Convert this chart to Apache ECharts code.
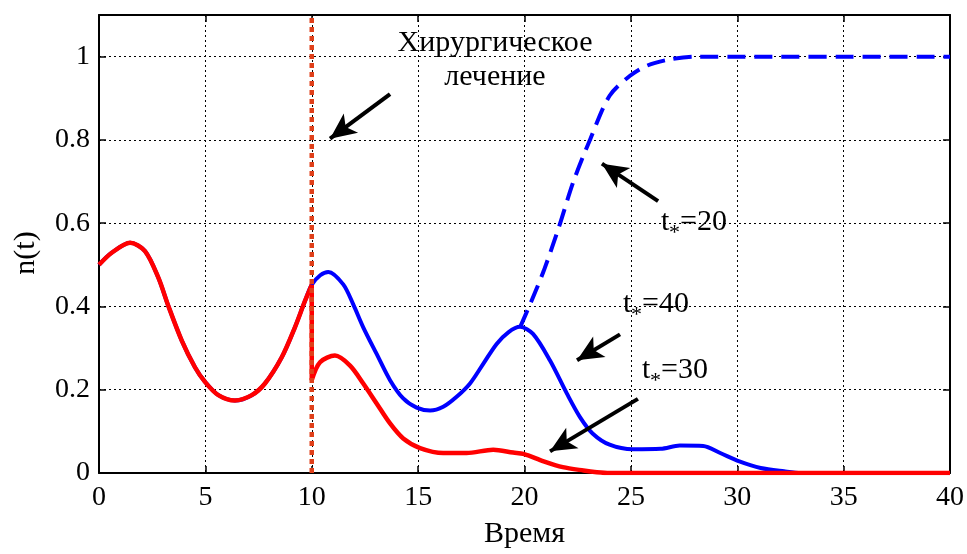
<!DOCTYPE html>
<html lang="ru">
<head>
    <meta charset="UTF-8">
    <title>n(t)</title>
    <script src="https://cdn.jsdelivr.net/npm/echarts@6/dist/echarts.min.js"></script>
    <style>
        html, body { margin: 0; padding: 0; background: #fff; }
        #main { width: 967px; height: 554px; }
    </style>
</head>
<body>
<div id="main"></div>
<script>
    // общий участок (до операции), t от 0 до 10
    var baseT = [0, 0.6, 1.46, 2.16, 2.79, 3.26, 3.89, 4.51, 4.98, 5.61, 6.39, 7.18, 7.8, 8.59, 9.21, 9.68, 10];
    var baseN = [0.5, 0.529, 0.553, 0.533, 0.469, 0.401, 0.318, 0.254, 0.219, 0.187, 0.174, 0.187, 0.215, 0.278, 0.35, 0.413, 0.452];

    // без операции (синяя сплошная), t* = 40
    var blueT = [10.4, 10.78, 11.48, 11.95, 12.42, 13.05, 13.68, 14.3, 14.93, 15.56, 16.18, 16.81, 17.44, 18.06, 18.69, 19.24, 19.79,
        20.4, 21.2, 22.0, 22.6, 23.2, 24.0, 25.1, 26.4, 27.3, 28.4, 29.2, 30.1, 31.1, 32.2, 33, 40];
    var blueN = [0.475, 0.483, 0.453, 0.405, 0.35, 0.286, 0.223, 0.179, 0.157, 0.15, 0.159, 0.183, 0.215, 0.262, 0.31, 0.338, 0.351,
        0.334, 0.27, 0.19, 0.135, 0.095, 0.068, 0.057, 0.058, 0.066, 0.065, 0.048, 0.028, 0.012, 0.004, 0, 0];

    // t* = 20 (синяя пунктирная)
    var dashT = [19.8, 20.26, 20.9, 21.6, 22.3, 23.1, 24.0, 24.96, 25.74, 26.8, 28, 40];
    var dashN = [0.351, 0.405, 0.485, 0.588, 0.70, 0.803, 0.906, 0.954, 0.978, 0.993, 1, 1];

    // после операции (красная), t* = 30
    var redT = [10, 10.39, 11.09, 11.8, 12.42, 13.05, 13.68, 14.3, 15.09, 16.18, 17.28, 18.53, 19.47, 19.95, 20.9, 21.8, 22.77, 23.4, 24, 40];
    var redN = [0.223, 0.266, 0.282, 0.258, 0.215, 0.167, 0.119, 0.083, 0.06, 0.048, 0.048, 0.056, 0.049, 0.046, 0.028, 0.014, 0.006, 0.002, 0, 0];

    var surgeryT = 10;
    var xTicks = [0, 40, 5];
    var yTicks = [0, 1.1, 0.2];

    // стрелки-подписи: [хвост, острие] в координатах графика
    var arrows = [
        [[13.68, 0.910], [10.86, 0.803]],
        [[26.28, 0.653], [23.64, 0.743]],
        [[24.49, 0.333], [22.47, 0.271]],
        [[25.33, 0.178], [21.2, 0.052]]
    ];

    function zip(t, n) {
        return t.map(function (v, i) { return [v, n[i]]; });
    }

    var FONT = '"Liberation Serif", "Times New Roman", serif';

    function tStar(x, y, rest) {
        return {
            type: 'group',
            children: [
                { type: 'text', x: x, y: y, style: { text: 't', fontSize: 30, fontFamily: FONT, fill: '#000', verticalAlign: 'middle' } },
                { type: 'text', x: x + 8, y: y + 11, style: { text: '*', fontSize: 22, fontFamily: FONT, fill: '#000', verticalAlign: 'middle' } },
                { type: 'text', x: x + 19, y: y, style: { text: rest, fontSize: 30, fontFamily: FONT, fill: '#000', verticalAlign: 'middle' } }
            ]
        };
    }

    var chart = echarts.init(document.getElementById('main'));

    var axisLine = { show: true, onZero: false, lineStyle: { color: '#000', width: 2 } };
    var grid = { show: true, lineStyle: { color: '#000', width: 1, type: [2, 3] } };
    var tick = { show: true, inside: true, length: 7, lineStyle: { color: '#000', width: 1.5 } };

    var RED = '#ff0000', BLUE = '#0000ff';

    chart.setOption({
        animation: false,
        grid: { left: 99, right: 17, top: 15, bottom: 77 },
        xAxis: [{
            type: 'value', min: xTicks[0], max: xTicks[1], interval: xTicks[2],
            axisLine: axisLine, axisTick: tick,
            axisLabel: { color: '#000', fontSize: 28, fontFamily: FONT, margin: 11 },
            splitLine: grid,
            name: 'Время', nameLocation: 'middle', nameGap: 46,
            nameTextStyle: { color: '#000', fontSize: 30, fontFamily: FONT }
        }, {
            type: 'value', position: 'top', min: xTicks[0], max: xTicks[1], interval: xTicks[2],
            axisLine: axisLine, axisTick: tick,
            axisLabel: { show: false }, splitLine: { show: false }
        }],
        yAxis: [{
            type: 'value', min: yTicks[0], max: yTicks[1], interval: yTicks[2],
            axisLine: axisLine, axisTick: tick,
            axisLabel: { color: '#000', fontSize: 28, fontFamily: FONT, margin: 9, showMaxLabel: false,
                formatter: function (v) { return String(Math.round(v * 10) / 10); } },
            splitLine: grid,
            name: 'n(t)', nameLocation: 'middle', nameGap: 58,
            nameTextStyle: { color: '#000', fontSize: 30, fontFamily: FONT, padding: [0, 0, 0, -18] }
        }, {
            type: 'value', position: 'right', min: yTicks[0], max: yTicks[1], interval: yTicks[2],
            axisLine: axisLine, axisTick: tick,
            axisLabel: { show: false }, splitLine: { show: false }
        }],
        series: [{
            type: 'line', name: 't*=40', showSymbol: false, silent: true, smooth: 0.3,
            data: zip(baseT.concat(blueT), baseN.concat(blueN)),
            lineStyle: { color: BLUE, width: 4 }
        }, {
            type: 'line', name: 't*=20', showSymbol: false, silent: true, smooth: 0.3,
            data: zip(dashT, dashN),
            lineStyle: { color: BLUE, width: 4, type: [18, 9] }
        }, {
            type: 'line', name: 'до операции', showSymbol: false, silent: true, smooth: 0.3,
            data: zip(baseT, baseN),
            lineStyle: { color: RED, width: 4.5 }
        }, {
            type: 'line', name: 'скачок', showSymbol: false, silent: true,
            data: [[surgeryT, baseN[baseN.length - 1]], [surgeryT, redN[0]]],
            lineStyle: { color: RED, width: 4.5 }
        }, {
            type: 'line', name: 't*=30', showSymbol: false, silent: true, smooth: 0.3,
            data: zip(redT, redN),
            lineStyle: { color: RED, width: 4.5 }
        }, {
            type: 'line', name: 'surgery', showSymbol: false, silent: true,
            data: [[surgeryT, yTicks[0]], [surgeryT, yTicks[1]]],
            lineStyle: { color: '#e0401a', width: 4.5, type: [5, 4] }
        }, {
            type: 'line', name: 'arrows', data: [], silent: true,
            markLine: {
                silent: true, animation: false,
                symbol: ['none', 'arrow'], symbolSize: [18, 26],
                label: { show: false },
                lineStyle: { color: '#000', width: 4, type: 'solid' },
                data: arrows.map(function (a) {
                    return [{ coord: a[0] }, { coord: a[1] }];
                })
            }
        }],
        graphic: [
            { type: 'text', x: 495, y: 43, style: { text: 'Хирургическое', fontSize: 30, fontFamily: FONT, fill: '#000', align: 'center', verticalAlign: 'middle' } },
            { type: 'text', x: 495, y: 77, style: { text: 'лечение', fontSize: 30, fontFamily: FONT, fill: '#000', align: 'center', verticalAlign: 'middle' } },
            tStar(661, 222, '=20'),
            tStar(623, 304, '=40'),
            tStar(642, 370, '=30')
        ]
    });
</script>
</body>
</html>
